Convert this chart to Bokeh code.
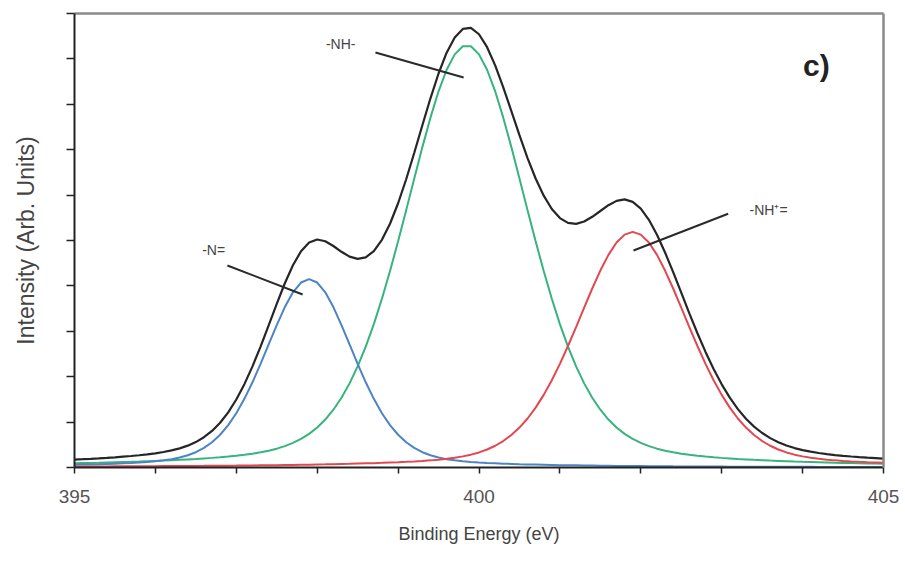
from bokeh.plotting import figure
from bokeh.models import Range1d, FixedTicker, LinearAxis, Label
from bokeh.embed import file_html
from bokeh.resources import INLINE

# Binding energy grid (eV)
energy = [
    395.0, 395.1, 395.2, 395.3, 395.4, 395.5, 395.6, 395.7, 395.8, 395.9,
    396.0, 396.1, 396.2, 396.3, 396.4, 396.5, 396.6, 396.7, 396.8, 396.9,
    397.0, 397.1, 397.2, 397.3, 397.4, 397.5, 397.6, 397.7, 397.8, 397.9,
    398.0, 398.1, 398.2, 398.3, 398.4, 398.5, 398.6, 398.7, 398.8, 398.9,
    399.0, 399.1, 399.2, 399.3, 399.4, 399.5, 399.6, 399.7, 399.8, 399.9,
    400.0, 400.1, 400.2, 400.3, 400.4, 400.5, 400.6, 400.7, 400.8, 400.9,
    401.0, 401.1, 401.2, 401.3, 401.4, 401.5, 401.6, 401.7, 401.8, 401.9,
    402.0, 402.1, 402.2, 402.3, 402.4, 402.5, 402.6, 402.7, 402.8, 402.9,
    403.0, 403.1, 403.2, 403.3, 403.4, 403.5, 403.6, 403.7, 403.8, 403.9,
    404.0, 404.1, 404.2, 404.3, 404.4, 404.5, 404.6, 404.7, 404.8, 404.9,
    405.0]

# Measured envelope (black)
envelope = [
    0.175, 0.183, 0.192, 0.202, 0.213, 0.225, 0.239, 0.253, 0.270, 0.290,
    0.313, 0.341, 0.376, 0.421, 0.481, 0.560, 0.667, 0.806, 0.986, 1.215,
    1.497, 1.836, 2.228, 2.664, 3.130, 3.604, 4.058, 4.456, 4.763, 4.954,
    5.022, 4.984, 4.879, 4.751, 4.644, 4.595, 4.630, 4.767, 5.014, 5.369,
    5.820, 6.349, 6.932, 7.538, 8.132, 8.678, 9.136, 9.473, 9.661, 9.684,
    9.543, 9.258, 8.858, 8.374, 7.851, 7.320, 6.816, 6.366, 5.987, 5.694,
    5.494, 5.387, 5.367, 5.418, 5.522, 5.650, 5.778, 5.873, 5.905, 5.851,
    5.702, 5.455, 5.127, 4.735, 4.302, 3.850, 3.396, 2.957, 2.546, 2.169,
    1.832, 1.538, 1.285, 1.075, 0.900, 0.760, 0.647, 0.556, 0.485, 0.428,
    0.384, 0.349, 0.319, 0.295, 0.274, 0.257, 0.242, 0.228, 0.216, 0.206,
    0.195]

# -N= component (blue)
imine = [
    0.060, 0.064, 0.068, 0.073, 0.079, 0.085, 0.093, 0.101, 0.111, 0.123,
    0.138, 0.158, 0.184, 0.220, 0.269, 0.337, 0.431, 0.556, 0.721, 0.933,
    1.196, 1.512, 1.877, 2.282, 2.710, 3.137, 3.533, 3.858, 4.074, 4.150,
    4.074, 3.858, 3.533, 3.137, 2.710, 2.282, 1.877, 1.512, 1.196, 0.933,
    0.721, 0.556, 0.431, 0.337, 0.269, 0.220, 0.184, 0.158, 0.138, 0.123,
    0.111, 0.101, 0.093, 0.085, 0.079, 0.073, 0.068, 0.064, 0.060, 0.056,
    0.052, 0.049, 0.047, 0.044, 0.042, 0.039, 0.037, 0.035, 0.034, 0.032,
    0.031, 0.029, 0.028, 0.027, 0.025, 0.024, 0.023, 0.022, 0.022, 0.021,
    0.020, 0.019, 0.018, 0.018, 0.017, 0.017, 0.016, 0.015, 0.015, 0.014,
    0.014, 0.014, 0.013, 0.013, 0.012, 0.012, 0.012, 0.011, 0.011, 0.011,
    0.010]

# -NH- component (green)
amine = [
    0.093, 0.097, 0.101, 0.105, 0.110, 0.115, 0.120, 0.125, 0.131, 0.138,
    0.145, 0.152, 0.160, 0.168, 0.178, 0.188, 0.200, 0.212, 0.226, 0.241,
    0.259, 0.280, 0.305, 0.334, 0.370, 0.415, 0.470, 0.541, 0.629, 0.741,
    0.882, 1.057, 1.273, 1.537, 1.853, 2.227, 2.662, 3.159, 3.716, 4.327,
    4.983, 5.669, 6.368, 7.057, 7.706, 8.286, 8.761, 9.100, 9.278, 9.278,
    9.100, 8.761, 8.286, 7.706, 7.057, 6.368, 5.669, 4.983, 4.327, 3.716,
    3.159, 2.662, 2.227, 1.853, 1.537, 1.273, 1.057, 0.882, 0.741, 0.629,
    0.541, 0.470, 0.415, 0.370, 0.334, 0.305, 0.280, 0.259, 0.241, 0.226,
    0.212, 0.200, 0.188, 0.178, 0.168, 0.160, 0.152, 0.145, 0.138, 0.131,
    0.125, 0.120, 0.115, 0.110, 0.105, 0.101, 0.097, 0.093, 0.089, 0.086,
    0.083]

# -NH+= component (red)
protonated = [
    0.022, 0.022, 0.023, 0.024, 0.024, 0.025, 0.026, 0.027, 0.028, 0.029,
    0.030, 0.031, 0.032, 0.033, 0.034, 0.035, 0.036, 0.038, 0.039, 0.041,
    0.042, 0.044, 0.046, 0.048, 0.050, 0.052, 0.055, 0.057, 0.060, 0.063,
    0.066, 0.069, 0.073, 0.077, 0.081, 0.086, 0.091, 0.096, 0.102, 0.109,
    0.116, 0.124, 0.133, 0.144, 0.157, 0.172, 0.191, 0.215, 0.245, 0.283,
    0.332, 0.396, 0.479, 0.583, 0.715, 0.879, 1.079, 1.319, 1.600, 1.922,
    2.283, 2.676, 3.093, 3.521, 3.943, 4.338, 4.684, 4.956, 5.130, 5.190,
    5.130, 4.956, 4.684, 4.338, 3.943, 3.521, 3.093, 2.676, 2.283, 1.922,
    1.600, 1.319, 1.079, 0.879, 0.715, 0.583, 0.479, 0.396, 0.332, 0.283,
    0.245, 0.215, 0.191, 0.172, 0.157, 0.144, 0.133, 0.124, 0.116, 0.109,
    0.102]

x_ticks = [395, 396, 397, 398, 399, 400, 401, 402, 403, 404, 405]
x_tick_labels = {395: "395", 400: "400", 405: "405"}
y_ticks = [0, 1, 2, 3, 4, 5, 6, 7, 8, 9, 10]

# Peak labels: text, label position, leader-line start and end (data units)
peak_labels = ["-N=", "-NH-", "-NH\u207a="]
label_x = [396.72, 398.29, 403.58]
label_y = [4.80, 9.32, 5.68]
lead_x0 = [396.89, 398.72, 403.08]
lead_y0 = [4.45, 9.14, 5.59]
lead_x1 = [397.82, 399.81, 401.91]
lead_y1 = [3.81, 8.59, 4.78]

FONT = "Liberation Sans"

p = figure(width=905, height=565, frame_width=809, frame_height=454,
           x_range=Range1d(395, 405), y_range=Range1d(0, 10),
           output_backend="svg", toolbar_location=None,
           min_border_left=74, min_border_right=22,
           min_border_top=13, min_border_bottom=98,
           background_fill_color="white", border_fill_color="white")
p.xgrid.visible = False
p.ygrid.visible = False
p.outline_line_color = None

p.line(energy, envelope, line_color="#262626", line_width=2.2)
p.line(energy, amine, line_color="#36b47c", line_width=2)
p.line(energy, imine, line_color="#4d84c4", line_width=2)
p.line(energy, protonated, line_color="#e4474f", line_width=2)

p.segment(x0=lead_x0, y0=lead_y0, x1=lead_x1, y1=lead_y1,
          line_color="#2a2a2a", line_width=2)

for t, lx, ly in zip(peak_labels, label_x, label_y):
    p.add_layout(Label(x=lx, y=ly, text=t, text_align="center",
                       text_baseline="middle", text_font=FONT,
                       text_font_size="14px", text_color="#444444"))

p.add_layout(Label(x=404.17, y=8.85, text="c)", text_align="center",
                   text_baseline="middle", text_font=FONT,
                   text_font_size="30px", text_font_style="bold",
                   text_color="#222222"))

# bottom axis
xa = p.xaxis[0]
xa.ticker = FixedTicker(ticks=x_ticks)
xa.major_label_overrides = {t: x_tick_labels.get(t, "") for t in x_ticks}
xa.axis_label = "Binding Energy (eV)"
xa.axis_label_text_font = FONT
xa.axis_label_text_font_style = "normal"
xa.axis_label_text_font_size = "18px"
xa.axis_label_text_color = "#444444"
xa.axis_label_standoff = 18
xa.major_label_text_font = FONT
xa.major_label_text_font_size = "19px"
xa.major_label_text_color = "#555555"
xa.major_label_standoff = 16
xa.axis_line_color = "#222222"
xa.axis_line_width = 2
xa.major_tick_line_color = "#222222"
xa.major_tick_line_width = 1.5
xa.major_tick_out = 6
xa.major_tick_in = 0
xa.minor_tick_out = 0
xa.minor_tick_in = 0

# left axis
ya = p.yaxis[0]
ya.ticker = FixedTicker(ticks=y_ticks)
ya.major_label_overrides = {t: "" for t in y_ticks}
ya.axis_label = "Intensity (Arb. Units)"
ya.axis_label_text_font = FONT
ya.axis_label_text_font_style = "normal"
ya.axis_label_text_font_size = "23px"
ya.axis_label_text_color = "#444444"
ya.axis_label_standoff = 28
ya.axis_line_color = "#222222"
ya.axis_line_width = 2
ya.major_tick_line_color = "#222222"
ya.major_tick_line_width = 1.5
ya.major_tick_out = 8
ya.major_tick_in = 0
ya.minor_tick_out = 0
ya.minor_tick_in = 0

# top and right borders
for side in ("above", "right"):
    ax = LinearAxis(ticker=FixedTicker(ticks=[]), axis_line_color="#8a8a8a",
                    axis_line_width=2.5, major_tick_out=0, major_tick_in=0,
                    minor_tick_out=0, minor_tick_in=0,
                    major_label_text_font_size="0px")
    p.add_layout(ax, side)

open("out.html", "w").write(file_html(p, INLINE))
